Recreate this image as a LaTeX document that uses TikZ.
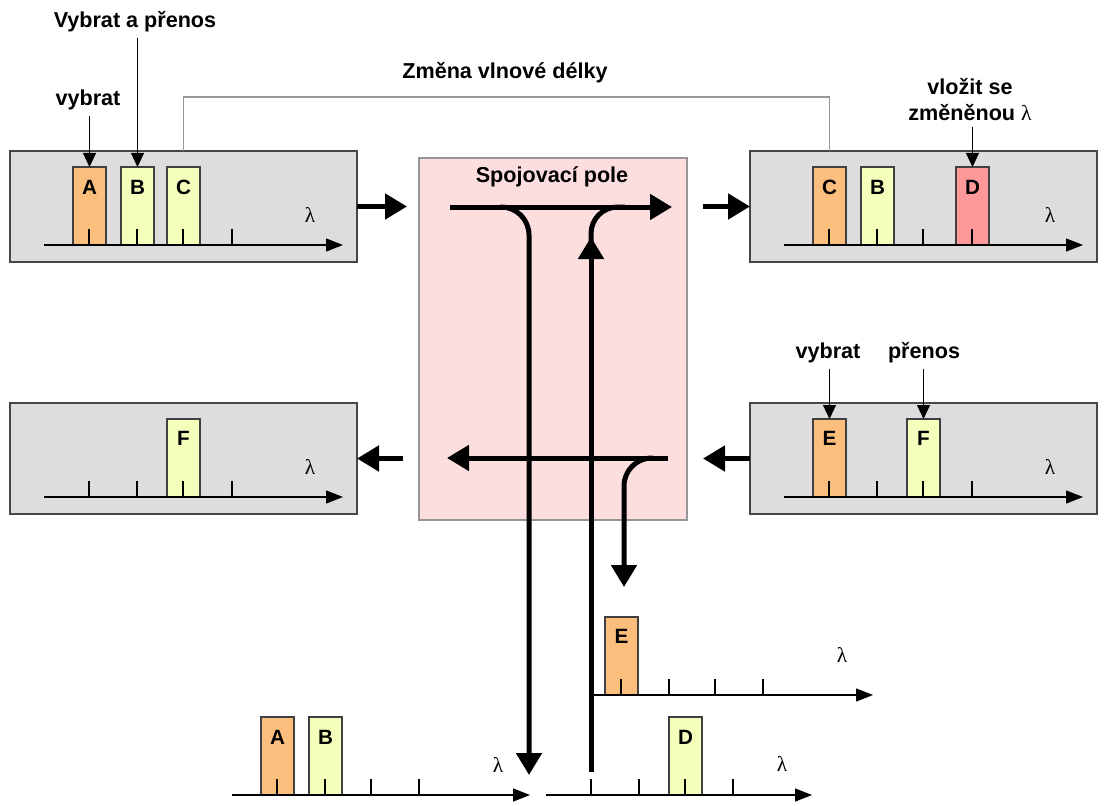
\documentclass[tikz,border=0pt]{standalone}
\usepackage{fontspec}
\setmainfont{Liberation Sans}
\newfontfamily\lamfont{Liberation Serif}
\usetikzlibrary{arrows.meta}
\definecolor{panelgray}{RGB}{221,221,221}
\definecolor{panelline}{RGB}{70,70,70}
\definecolor{chorange}{RGB}{252,190,125}
\definecolor{chyellow}{RGB}{243,255,187}
\definecolor{chred}{RGB}{255,153,153}
\definecolor{fieldpink}{RGB}{253,222,222}
\definecolor{fieldline}{RGB}{150,150,150}
\newcommand{\lam}{{\lamfont\mdseries λ}}
\tikzset{
 panel/.style={draw=panelline, fill=panelgray, line width=1.1pt, anchor=north west, minimum width=260.25pt, minimum height=83.25pt, inner sep=0pt, outer sep=0pt},
 chan/.style={draw=black!75, line width=0.9pt, anchor=south west, minimum width=24.75pt, minimum height=58.5pt, inner sep=0pt, outer sep=0pt},
 letter/.style={font=\fontsize{15.5}{18}\selectfont\bfseries, inner sep=0pt},
 lbl/.style={font=\fontsize{16.2}{19.5}\selectfont\bfseries, inner sep=0pt, align=center},
 lamstyle/.style={font=\fontsize{16}{18}\selectfont, inner sep=0pt},
 axis/.style={line width=1pt, -{Triangle[length=12.75pt, width=9.75pt]}},
 tickmark/.style={line width=1pt},
 pointer/.style={line width=0.85pt, -{Triangle[length=10.5pt, width=9.75pt]}},
 fat/.style={line width=3.75pt},
 fatarrow/.style={line width=3.75pt, -{Triangle[length=16.5pt, width=18.75pt]}},
 grayline/.style={draw=fieldline, line width=1pt},
}
\begin{document}
\begin{tikzpicture}[x=0.75pt,y=-0.75pt]
\useasboundingbox (0,0) rectangle (1106,806);

% panels and switching field
\node[panel] (P1) at (10,151) {};
\node[panel] (P2) at (750,151) {};
\node[panel] (P3) at (10,403) {};
\node[panel] (P4) at (750,403) {};
\node[draw=fieldline, fill=fieldpink, line width=1.1pt, anchor=north west, minimum width=201pt, minimum height=271.5pt, inner sep=0pt, outer sep=0pt] (SW) at (419,158) {};
\node[lbl] (SWt) at (552,177) {Spojovací pole};

% ---- panel 1
\node[chan, fill=chorange] (A1) at (73,245) {};
\node[chan, fill=chyellow] (B1) at (121,245) {};
\node[chan, fill=chyellow] (C1) at (167,245) {};
\node[letter] (A1t) at ([yshift=-15pt]A1.north) {A};
\node[letter] (B1t) at ([yshift=-15pt]B1.north) {B};
\node[letter] (C1t) at ([yshift=-15pt]C1.north) {C};
\foreach \x in {89,137,183,232} \draw[tickmark] (\x,229) -- (\x,245);
\coordinate (ax1s) at (44,245); \coordinate (ax1e) at (343,245);
\draw[axis] (ax1s) -- (ax1e);
\node[lamstyle] (L1) at (310,215) {\lam};

% ---- panel 2
\node[chan, fill=chorange] (C2) at (813,245) {};
\node[chan, fill=chyellow] (B2) at (861,245) {};
\node[chan, fill=chred] (D2) at (956,245) {};
\node[letter] (C2t) at ([yshift=-15pt]C2.north) {C};
\node[letter] (B2t) at ([yshift=-15pt]B2.north) {B};
\node[letter] (D2t) at ([yshift=-15pt]D2.north) {D};
\foreach \x in {829,877,923,972} \draw[tickmark] (\x,229) -- (\x,245);
\coordinate (ax2s) at (784,245); \coordinate (ax2e) at (1083,245);
\draw[axis] (ax2s) -- (ax2e);
\node[lamstyle] (L2) at (1050,215) {\lam};

% ---- panel 3
\node[chan, fill=chyellow] (F3) at (167,497) {};
\node[letter] (F3t) at ([yshift=-14.5pt]F3.north) {F};
\foreach \x in {89,137,183,232} \draw[tickmark] (\x,481) -- (\x,497);
\coordinate (ax3s) at (44,497); \coordinate (ax3e) at (343,497);
\draw[axis] (ax3s) -- (ax3e);
\node[lamstyle] (L3) at (310,467) {\lam};

% ---- panel 4
\node[chan, fill=chorange] (E4) at (813,497) {};
\node[chan, fill=chyellow] (F4) at (907,497) {};
\node[letter] (E4t) at ([yshift=-14.5pt]E4.north) {E};
\node[letter] (F4t) at ([yshift=-14.5pt]F4.north) {F};
\foreach \x in {829,877,923,972} \draw[tickmark] (\x,481) -- (\x,497);
\coordinate (ax4s) at (784,497); \coordinate (ax4e) at (1083,497);
\draw[axis] (ax4s) -- (ax4e);
\node[lamstyle] (L4) at (1050,467) {\lam};

% ---- labels and pointers
\node[lbl] (vap) at (135,22) {Vybrat a přenos};
\draw[pointer] ([yshift=-4pt]vap.south -| B1.north) -- (B1.north);
\node[lbl] (vyb1) at (88,100) {vybrat};
\draw[pointer] ([yshift=-4pt]vyb1.south -| A1.north) -- (A1.north);
\node[lbl] (zmena) at (505,73) {Změna vlnové délky};
\draw[grayline] (C1.north |- P1.north) -- ++(0,-54) -| (C2.north |- P2.north);
\node[lbl] (ins) at (970,100) {vložit se\\změněnou \lam};
\draw[pointer] ([yshift=-4pt]ins.south -| D2.north) -- (D2.north);
\node[lbl] (vyb2) at (828,353) {vybrat};
\draw[pointer] ([yshift=-4pt]vyb2.south -| E4.north) -- (E4.north);
\node[lbl] (pren) at (924,353) {přenos};
\draw[pointer] ([yshift=-4pt]pren.south -| F4.north) -- (F4.north);

% ---- fat arrows between panels and field
\draw[fatarrow] (P1.east) -- ([xshift=-9pt]P1.east -| SW.west);
\draw[fatarrow] ([xshift=12pt]P2.west -| SW.east) -- (P2.west);
\draw[fatarrow] (P4.west) -- ([xshift=12pt]P4.west -| SW.east);
\draw[fatarrow] ([xshift=-12pt]P3.east -| SW.west) -- (P3.east);

% ---- paths inside the switching field
\coordinate (tIn) at (450,207); \coordinate (tOut) at (672,207);
\draw[fatarrow] (tIn) -- (tOut);
\coordinate (dropA) at (500,207); \coordinate (dropAend) at (529,775);
\draw[fatarrow, rounded corners=21pt] (dropA) -| (dropAend);
\coordinate (addS) at (591,772); \coordinate (addTip) at (591,237); \coordinate (addJoin) at (625,207);
\draw[fatarrow] (addS) -- (addTip);
\draw[fat, rounded corners=20pt] ([yshift=-10pt]addTip) |- (addJoin);
\coordinate (bIn) at (668,458); \coordinate (bOut) at (447,458);
\draw[fatarrow] (bIn) -- (bOut);
\coordinate (dropE) at (653,458); \coordinate (dropEend) at (624,587);
\draw[fatarrow, rounded corners=21pt] (dropE) -| (dropEend);

% ---- bottom left spectrum (A, B dropped)
\node[chan, fill=chorange] (A5) at (261,795) {};
\node[chan, fill=chyellow] (B5) at (309,795) {};
\node[letter] (A5t) at ([yshift=-15pt]A5.north) {A};
\node[letter] (B5t) at ([yshift=-15pt]B5.north) {B};
\foreach \x in {277,325,371,419} \draw[tickmark] (\x,779) -- (\x,795);
\coordinate (ax5s) at (232,795); \coordinate (ax5e) at (530,795);
\draw[axis] (ax5s) -- (ax5e);
\node[lamstyle] (L5) at (498,765) {\lam};

% ---- bottom right spectrum (D added)
\node[chan, fill=chyellow] (D6) at (669,795) {};
\node[letter] (D6t) at ([yshift=-15pt]D6.north) {D};
\foreach \x in {591,639,685,733} \draw[tickmark] (\x,779) -- (\x,795);
\coordinate (ax6s) at (546,795); \coordinate (ax6e) at (812,795);
\draw[axis] (ax6s) -- (ax6e);
\node[lamstyle] (L6) at (782,764) {\lam};

% ---- E dropped spectrum
\node[chan, fill=chorange] (E7) at (605,695) {};
\node[letter] (E7t) at ([yshift=-14.5pt]E7.north) {E};
\foreach \x in {621,669,715,763} \draw[tickmark] (\x,679) -- (\x,695);
\coordinate (ax7s) at (593,695); \coordinate (ax7e) at (873,695);
\draw[axis] (ax7s) -- (ax7e);
\node[lamstyle] (L7) at (842,655) {\lam};
\end{tikzpicture}
\end{document}
